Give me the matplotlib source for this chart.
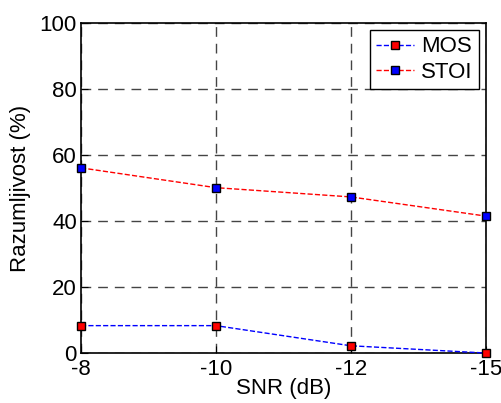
import matplotlib
matplotlib.use("Agg")
import matplotlib.pyplot as plt

snr_labels = ["-8", "-10", "-12", "-15"]
mos = [8.3, 8.3, 2.2, 0.0]
stoi = [56.1, 50.1, 47.3, 41.5]

plt.rcParams['font.family'] = ['Liberation Sans', 'DejaVu Sans']
fs = 16

fig = plt.figure(figsize=(5.02, 4.03), dpi=100)
ax = fig.add_axes([0.1614, 0.124, 0.806, 0.819])

x = range(len(snr_labels))
ax.plot(x, mos, '--', color='blue', lw=1.0, marker='s', ms=6,
        mfc='red', mec='black', mew=1.0, label='MOS', clip_on=False, zorder=3)
ax.plot(x, stoi, '--', color='red', lw=1.0, marker='s', ms=6,
        mfc='blue', mec='black', mew=1.0, label='STOI', clip_on=False, zorder=3)

ax.set_xlim(0, 3)
ax.set_ylim(0, 100)
ax.set_xticks(list(x))
ax.set_xticklabels(snr_labels)
ax.set_yticks([0, 20, 40, 60, 80, 100])
ax.tick_params(direction='in', labelsize=fs, length=5)
ax.tick_params(axis='x', pad=4)
ax.tick_params(axis='y', pad=3)
ax.grid(True, ls=(0, (7, 5)), color='#444444', lw=1.0)
for s in ax.spines.values():
    s.set_linewidth(1.2)
ax.set_xlabel("SNR (dB)", fontsize=fs, labelpad=-1)
ax.set_ylabel("Razumljivost (%)", fontsize=fs, labelpad=6)

leg = ax.legend(loc='upper right', fontsize=fs, fancybox=False, framealpha=1,
                edgecolor='black', handlelength=1.7, borderaxespad=0.3,
                handletextpad=0.3, labelspacing=0.2, borderpad=0.3)
leg.get_frame().set_linewidth(1.0)

fig.savefig("out.png", dpi=100)
